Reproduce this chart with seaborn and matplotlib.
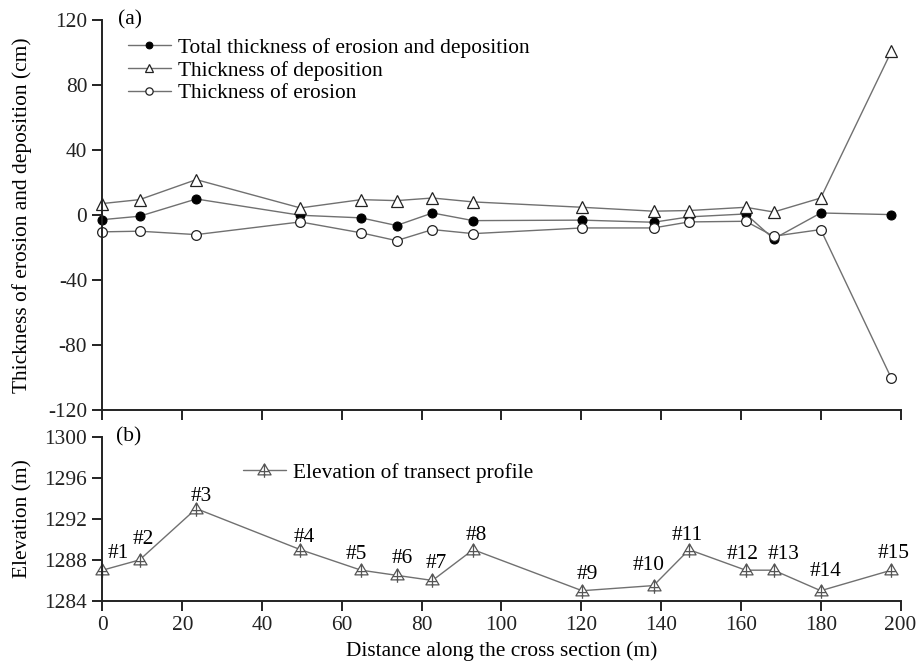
import numpy as np
import pandas as pd
import matplotlib
matplotlib.use("Agg")
import matplotlib.pyplot as plt
from matplotlib.path import Path
import seaborn as sns

# ---------------- data ----------------
distance = [0, 9.3, 23.5, 49.6, 64.8, 73.7, 82.7, 92.9, 120.2, 138.1, 147.0, 161.2, 168.2, 180.0, 197.7]
total = [-2.7, -0.6, 10.0, 0.0, -1.6, -6.3, 1.4, -3.3, -3.0, -4.3, -1.0, 0.8, -14.5, 1.4, 0.4]
deposition = [7.2, 9.6, 21.9, 4.5, 9.6, 9.0, 10.6, 8.2, 4.9, 2.5, 2.9, 4.9, 2.0, 10.6, 100.7]
erosion = [-10.2, -9.8, -11.9, -4.1, -10.8, -15.6, -8.8, -11.3, -7.8, -7.8, -4.1, -3.7, -12.9, -8.8, -100.2]
elevation = [1287, 1288, 1293, 1289, 1287, 1286.5, 1286, 1289, 1285, 1285.5, 1289, 1287, 1287, 1285, 1287]
site_labels = ["#1", "#2", "#3", "#4", "#5", "#6", "#7", "#8", "#9", "#10",
               "#11", "#12", "#13", "#14", "#15"]

series_names = ["Total thickness of erosion and deposition",
                "Thickness of deposition",
                "Thickness of erosion"]
elev_name = "Elevation of transect profile"

x_ticks = [0, 20, 40, 60, 80, 100, 120, 140, 160, 180, 200]
y_ticks_a = [-120, -80, -40, 0, 40, 80, 120]
y_ticks_b = [1284, 1288, 1292, 1296, 1300]

# label offsets in pixels (layout only)
label_offsets = [(16, 17), (4, 20), (5, 12), (4, 12), (-5, 16), (6, 17), (4, 17),
                 (3, 14), (5, 16), (-5, 20), (-2, 14), (-3, 16), (10, 16), (5, 19), (2, 17)]

df_a = pd.DataFrame({"x": distance, "total": total, "dep": deposition, "ero": erosion})
df_b = pd.DataFrame({"x": distance, "elev": elevation})

# ---------------- style ----------------
sns.set_theme(style="ticks")
plt.rcParams["font.family"] = ["Liberation Serif", "DejaVu Serif"]
FS = 15.4
plt.rcParams.update({
    "font.size": FS,
    "axes.labelsize": FS,
    "xtick.labelsize": FS,
    "ytick.labelsize": FS,
    "legend.fontsize": FS,
    "axes.edgecolor": "#222222",
    "axes.linewidth": 1.4,
    "xtick.color": "#222222",
    "ytick.color": "#222222",
    "xtick.major.width": 1.4,
    "ytick.major.width": 1.4,
    "xtick.major.size": 7.5,
    "ytick.major.size": 7.5,
    "xtick.direction": "out",
    "ytick.direction": "out",
    "text.color": "black",
    "axes.labelcolor": "black",
})

fig = plt.figure(figsize=(9.19, 6.61), dpi=100)
L, W = 0.1115, 0.8684
ax1 = fig.add_axes([L, 0.379, W, 0.5907])
ax2 = fig.add_axes([L, 0.0908, W, 0.2485])

line_col = "#707070"
edge_col = "#222222"

sns.lineplot(data=df_a, x="x", y="total", ax=ax1, color=line_col, lw=1.0,
             marker="o", markersize=6.5, markerfacecolor="black", markeredgecolor="black",
             label=series_names[0], sort=False)
sns.lineplot(data=df_a, x="x", y="dep", ax=ax1, color=line_col, lw=1.0,
             marker="^", markersize=8, markerfacecolor="white", markeredgecolor=edge_col,
             markeredgewidth=0.9, label=series_names[1], sort=False)
sns.lineplot(data=df_a, x="x", y="ero", ax=ax1, color=line_col, lw=1.0,
             marker="o", markersize=7, markerfacecolor="white", markeredgecolor=edge_col,
             markeredgewidth=0.9, label=series_names[2], sort=False)

ax1.set_xlim(0, 200)
ax1.set_ylim(-120, 120)
ax1.set_xticks(x_ticks)
ax1.set_xticklabels([])
ax1.set_yticks(y_ticks_a)
ax1.set_yticklabels([str(v) for v in y_ticks_a])
ax1.set_xlabel("")
ax1.set_ylabel("Thickness of erosion and deposition (cm)")
ax1.yaxis.set_label_coords(-0.088, 0.5)
sns.despine(ax=ax1)
ax1.text(0.019, 1.0, "(a)", transform=ax1.transAxes, ha="left", va="center", fontsize=FS)
leg1 = ax1.legend(loc="upper left", bbox_to_anchor=(0.032, 0.954), frameon=False,
                  borderpad=0, borderaxespad=0, handlelength=2.0, handletextpad=0.35,
                  labelspacing=0.13, markerscale=0.75)

# custom triangle-with-plus marker
tri_plus = Path(
    [(-0.9, -0.6), (0.9, -0.6), (0.0, 0.9), (-0.9, -0.6),
     (0.0, -1.0), (0.0, 0.9),
     (-0.55, -0.15), (0.55, -0.15)],
    [Path.MOVETO, Path.LINETO, Path.LINETO, Path.CLOSEPOLY,
     Path.MOVETO, Path.LINETO,
     Path.MOVETO, Path.LINETO])

sns.lineplot(data=df_b, x="x", y="elev", ax=ax2, color=line_col, lw=1.0,
             marker=tri_plus, markersize=10.5, markerfacecolor="white",
             markeredgecolor="#555555", markeredgewidth=0.9,
             label=elev_name, sort=False)
ax2.set_xlim(0, 200)
ax2.set_ylim(1284, 1300)
ax2.set_xticks(x_ticks)
ax2.set_xticklabels([str(v) for v in x_ticks])
ax2.set_yticks(y_ticks_b)
ax2.set_yticklabels([str(v) for v in y_ticks_b])
ax2.set_xlabel("Distance along the cross section (m)", labelpad=4)
ax2.set_ylabel("Elevation (m)")
ax2.yaxis.set_label_coords(-0.088, 0.5)
sns.despine(ax=ax2)
ax2.text(0.017, 1.0, "(b)", transform=ax2.transAxes, ha="left", va="center", fontsize=FS)
ax2.legend(loc="upper left", bbox_to_anchor=(0.176, 0.84), frameon=False,
           borderpad=0, borderaxespad=0, handlelength=2.0, handletextpad=0.35)

for xv, yv, lab, (dx, dy) in zip(distance, elevation, site_labels, label_offsets):
    ax2.annotate(lab, (xv, yv), xytext=(dx, dy), textcoords="offset pixels",
                 ha="center", va="center", fontsize=FS)

for a in (ax1, ax2):
    for ln in a.lines:
        ln.set_clip_on(False)

fig.savefig("out.png", dpi=100, facecolor="white")
